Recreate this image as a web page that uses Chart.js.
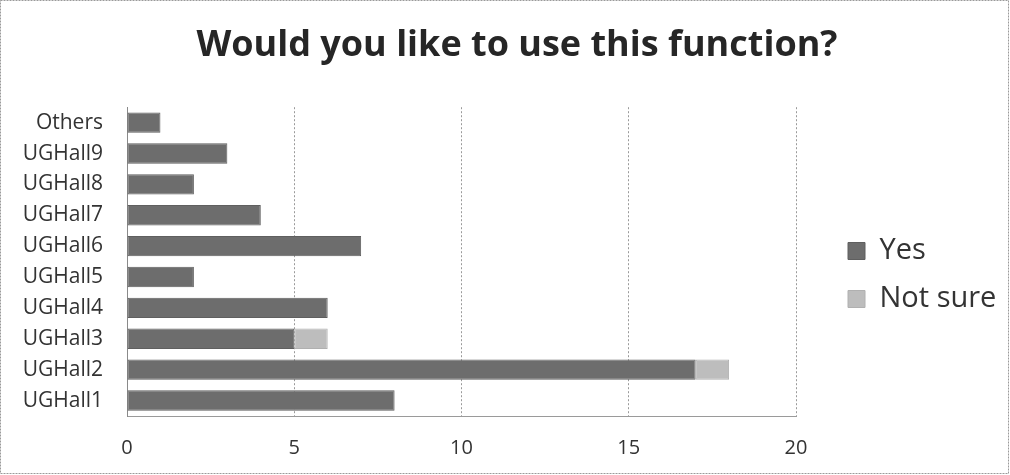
<!DOCTYPE html>
<html>
<head>
<meta charset="utf-8">
<script src="https://cdn.jsdelivr.net/npm/chart.js@4/dist/chart.umd.min.js"></script>
<style>
  html, body { margin: 0; padding: 0; background: #fff; }
  #wrap { width: 1010px; height: 475px; }
</style>
</head>
<body>
<div id="wrap"><canvas id="c" width="1010" height="475"></canvas></div>
<script>
const chartTitle = 'Would you like to use this function?';
const categories = ['Others', 'UGHall9', 'UGHall8', 'UGHall7', 'UGHall6', 'UGHall5', 'UGHall4', 'UGHall3', 'UGHall2', 'UGHall1'];
const yesValues = [1, 3, 2, 4, 7, 2, 6, 5, 17, 8];
const notSureValues = [0, 0, 0, 0, 0, 0, 0, 1, 1, 0];
const seriesNames = ['Yes', 'Not sure'];
const xTicks = [0, 5, 10, 15, 20];

const FONT = "'Open Sans', 'DejaVu Sans', sans-serif";

const framePlugin = {
  id: 'frame',
  beforeDraw(chart) {
    const ctx = chart.ctx;
    ctx.save();
    ctx.fillStyle = '#fff';
    ctx.fillRect(0, 0, chart.width, chart.height);
    ctx.strokeStyle = '#9a9a9a';
    ctx.lineWidth = 1;
    ctx.setLineDash([2, 1]);
    ctx.strokeRect(0.5, 0.5, chart.width - 2, chart.height - 2);
    ctx.restore();
  }
};

const legendPlace = {
  id: 'legendPlace',
  beforeLayout(chart) {
    const lg = chart.legend;
    if (lg && !lg._patched) {
      const orig = lg.fit.bind(lg);
      lg.fit = function () { orig(); this.width = 214; };
      lg._patched = true;
    }
  },
  afterLayout(chart) {
    const lg = chart.legend;
    if (lg) {
      lg.left = 829; lg.right = 1010;
      lg.top = 175; lg.bottom = 375;
    }
  }
};

new Chart(document.getElementById('c'), {
  type: 'bar',
  data: {
    labels: categories,
    datasets: [
      { label: seriesNames[0], data: yesValues, backgroundColor: '#6d6d6d', borderColor: '#5f5f5f', borderWidth: 1, borderSkipped: false },
      { label: seriesNames[1], data: notSureValues, backgroundColor: '#bdbdbd', borderColor: '#b0b0b0', borderWidth: 1, borderSkipped: false }
    ]
  },
  options: {
    indexAxis: 'y',
    responsive: false,
    animation: false,
    devicePixelRatio: 1,
    layout: { padding: { left: 24, right: 0, top: 0, bottom: 16 } },
    datasets: { bar: { categoryPercentage: 1, barPercentage: 0.66 } },
    scales: {
      x: {
        stacked: true,
        min: 0, max: 20,
        afterBuildTicks(scale) { scale.ticks = xTicks.map(v => ({ value: v })); },
        afterFit(scale) { scale.height = 43; },
        ticks: { color: '#333', font: { family: FONT, size: 20 }, padding: 20 },
        grid: { color: '#9a9a9a', drawTicks: false, lineWidth: 1 },
        border: { display: true, color: '#9a9a9a', dash: [2, 2] }
      },
      y: {
        stacked: true,
        afterFit(scale) { scale.width = 103; },
        ticks: { color: '#333', font: { family: FONT, size: 21 }, padding: 24 },
        grid: { display: false, drawTicks: false },
        border: { display: true, color: '#8a8a8a', width: 1 }
      }
    },
    plugins: {
      title: {
        display: true,
        text: chartTitle,
        color: '#262626',
        font: { family: FONT, size: 36, weight: 'bold', lineHeight: 1.2 },
        padding: { top: 24, bottom: 40 }
      },
      legend: {
        position: 'right',
        labels: {
          color: '#333',
          font: { family: FONT, size: 29 },
          boxWidth: 17, boxHeight: 17,
          padding: 19
        }
      },
      tooltip: { enabled: false }
    }
  },
  plugins: [framePlugin, legendPlace]
});
</script>
</body>
</html>
